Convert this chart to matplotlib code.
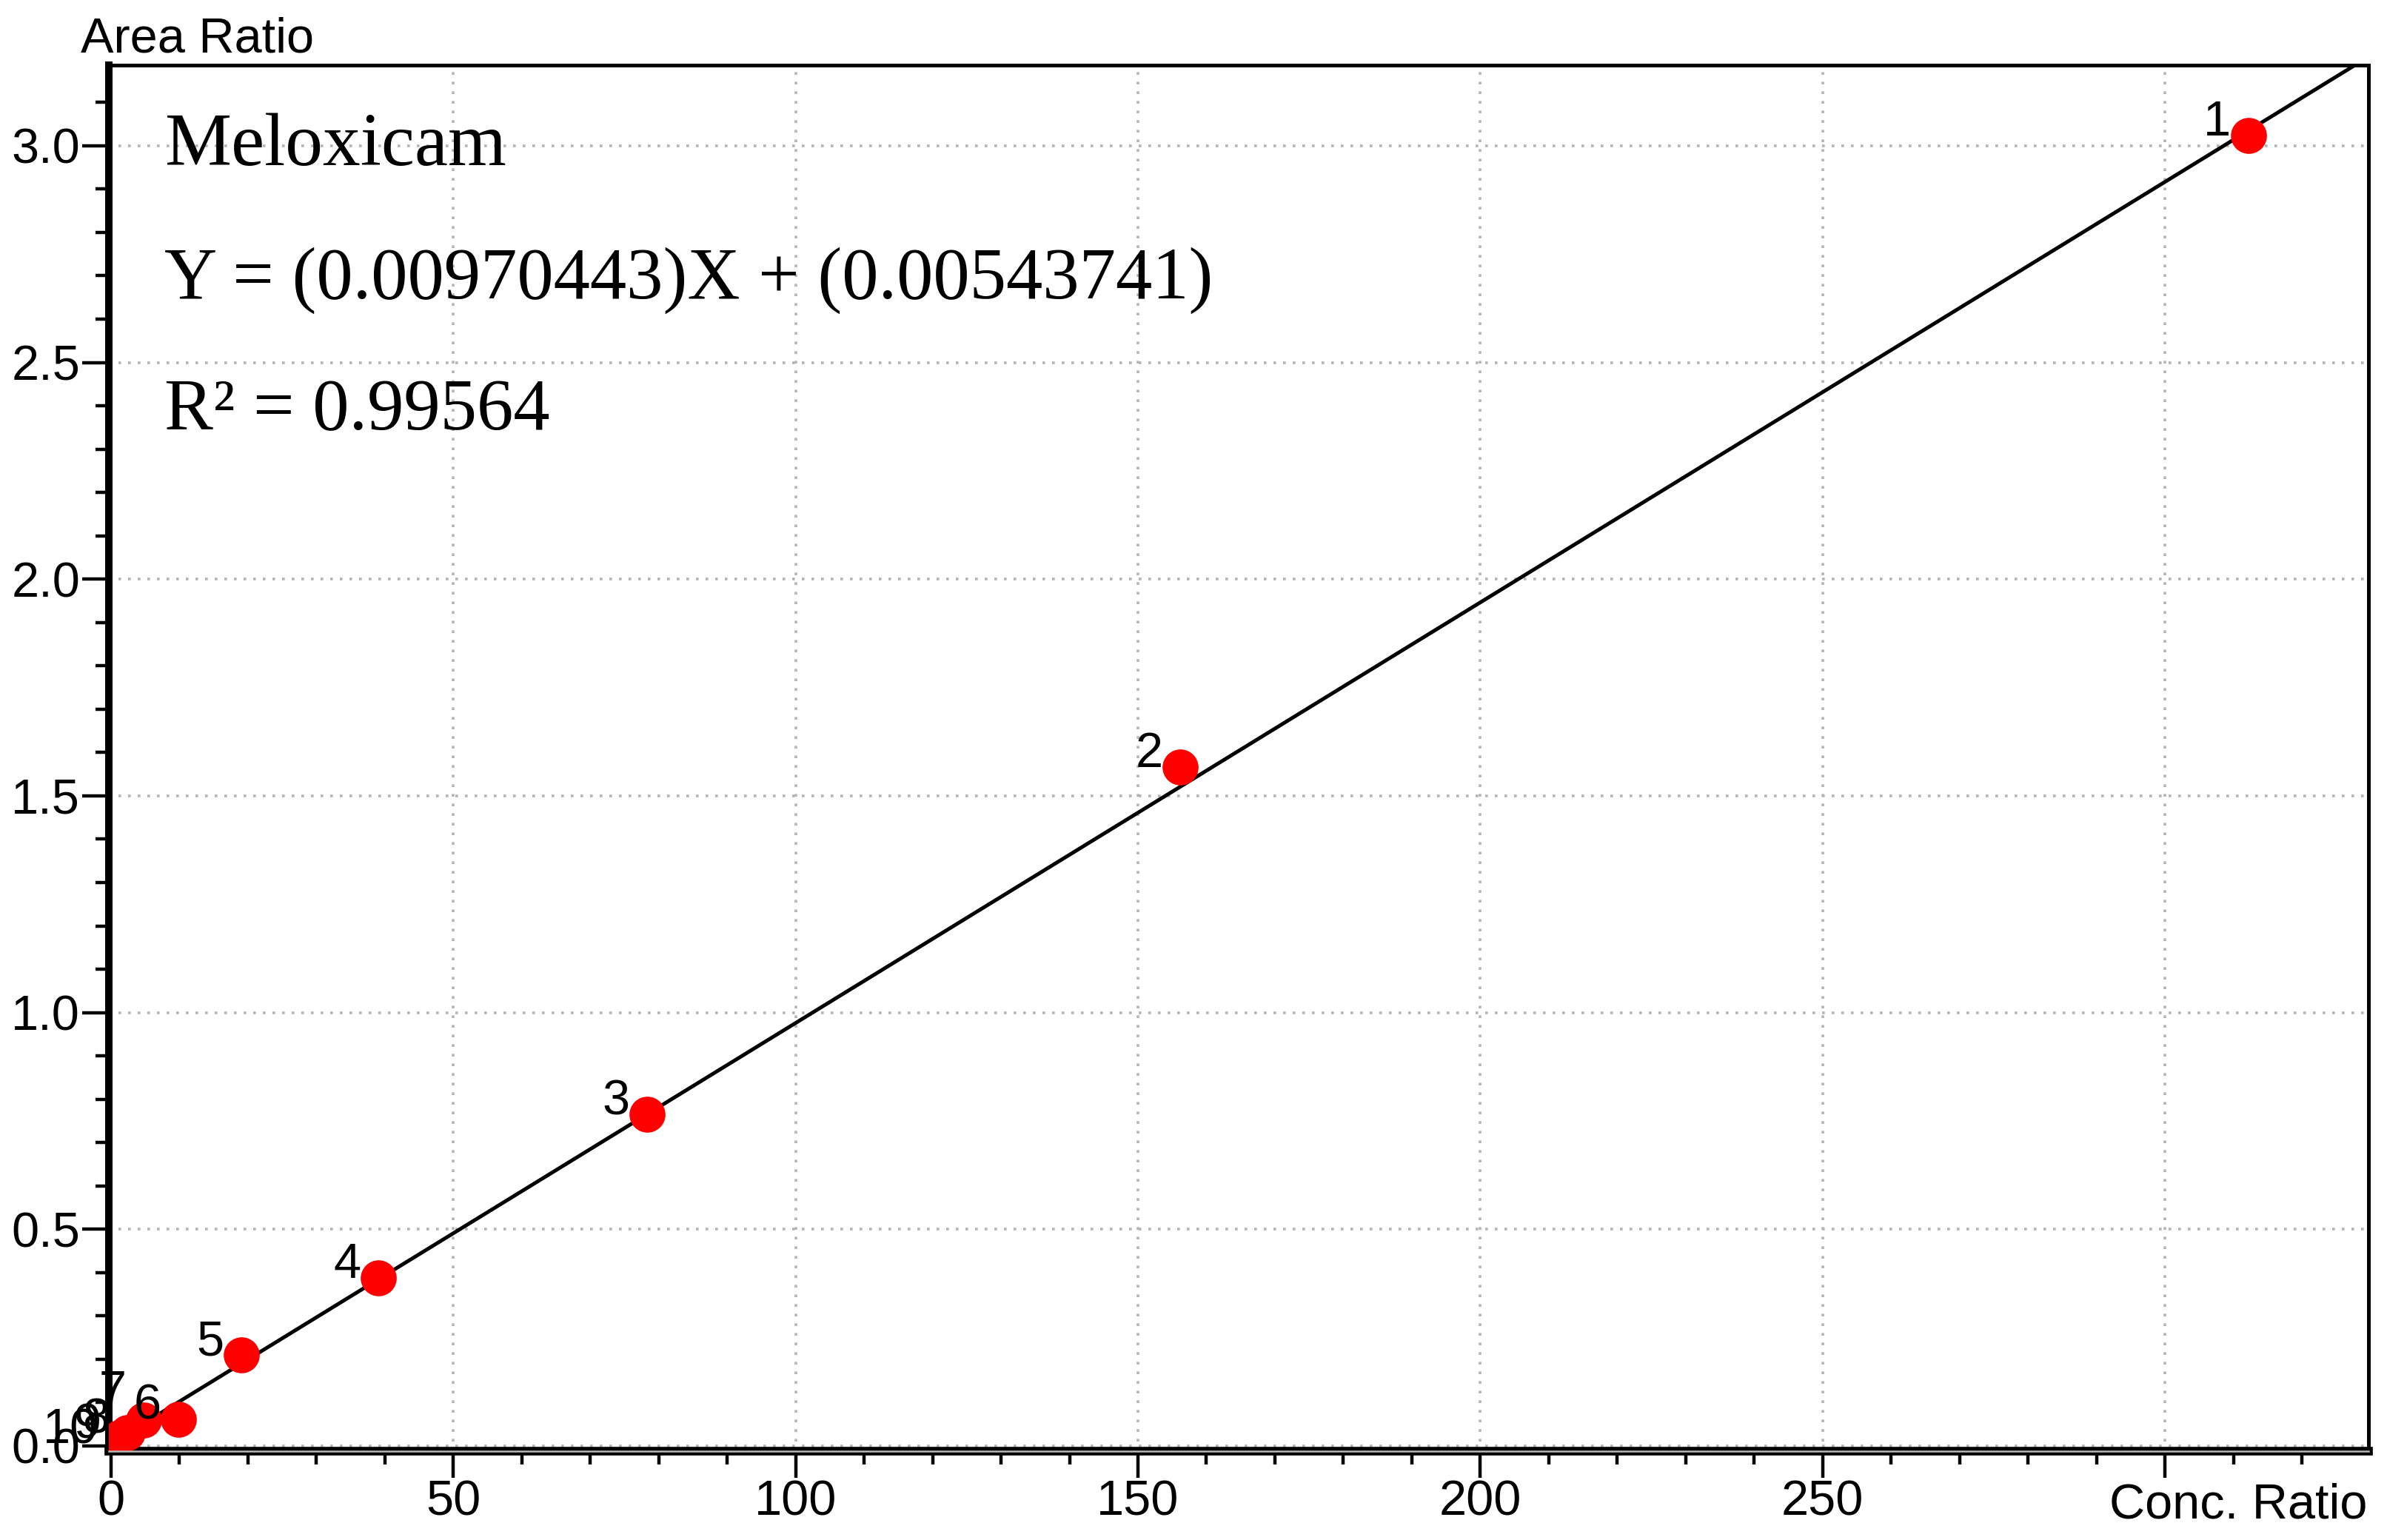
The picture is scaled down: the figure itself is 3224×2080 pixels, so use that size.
# -*- coding: utf-8 -*-
import numpy as np
import matplotlib
matplotlib.use('Agg')
import matplotlib.pyplot as plt
from matplotlib import font_manager
from matplotlib.ticker import MultipleLocator, FormatStrFormatter, FuncFormatter

# --- data ---
conc_ratio = [312.2, 156.2, 78.3, 39.1, 19.1, 9.9, 4.8, 2.4, 1.2, 0.6]
area_ratio = [3.024, 1.566, 0.765, 0.387, 0.210, 0.062, 0.060, 0.030, 0.018, 0.006]
point_labels = ['1', '2', '3', '4', '5', '6', '7', '8', '9', '10']

compound = 'Meloxicam'
slope = 0.00970443
intercept = 0.00543741
r_squared = 0.99564

# pick a narrow sans if there is one
names = {f.name for f in font_manager.fontManager.ttflist}
sans = 'Liberation Sans Narrow' if 'Liberation Sans Narrow' in names else 'Liberation Sans'
plt.rcParams['font.family'] = [sans, 'DejaVu Sans']

fig = plt.figure(figsize=(16.12, 10.4), dpi=200)
ax = fig.add_axes([0.0456, 0.0577, 0.9466, 0.9000])

xmin, xmax = -0.3, 329.7
ax.set_xlim(xmin, xmax)
ax.set_ylim(-0.012, 3.186)

# grid
ax.grid(True, which='major', color='#b4b4b4', linestyle=(0, (1, 2.6)), linewidth=1.3)
ax.set_axisbelow(True)

# regression line
xl = np.linspace(0, xmax, 200)
ax.plot(xl, slope * xl + intercept, color='black', linewidth=1.8, zorder=2)

# points
ax.plot(conc_ratio, area_ratio, 'o', color='#ff0000', markersize=17.5,
        markeredgewidth=0, zorder=3)

# point labels: upper-left of each dot
extra_up = {'7': 7}
for x, y, lab in zip(conc_ratio, area_ratio, point_labels):
    ax.annotate(lab, (x, y), xytext=(-8.5, extra_up.get(lab, 0)),
                textcoords='offset points', ha='right', va='baseline',
                fontsize=24, zorder=4)

# text block
serif = ['Liberation Serif', 'DejaVu Serif']
ax.text(0.0246, 0.928, compound, transform=ax.transAxes, fontsize=36.5,
        family=serif, va='baseline')
ax.text(0.0246, 0.832, 'Y = (%.8f)X + (%.8f)' % (slope, intercept),
        transform=ax.transAxes, fontsize=35.5, family=serif, va='baseline')
ax.text(0.0246, 0.737, 'R\u00b2 = %.5f' % r_squared, transform=ax.transAxes,
        fontsize=35.5, family=serif, va='baseline')

# ticks (the 300 label is replaced by the axis title in the original)
ax.xaxis.set_major_locator(MultipleLocator(50))
ax.xaxis.set_minor_locator(MultipleLocator(10))
ax.xaxis.set_major_formatter(FuncFormatter(lambda v, p: '' if v > 275 else '%d' % v))
ax.yaxis.set_major_locator(MultipleLocator(0.5))
ax.yaxis.set_minor_locator(MultipleLocator(0.1))
ax.yaxis.set_major_formatter(FormatStrFormatter('%.1f'))
ax.tick_params(which='major', direction='out', length=13, width=1.6,
               labelsize=24, pad=1)
ax.tick_params(which='minor', direction='out', length=6.5, width=1.6)

# spines
ax.spines['left'].set_linewidth(3.6)
ax.spines['bottom'].set_linewidth(4.2)
ax.spines['top'].set_linewidth(1.8)
ax.spines['right'].set_linewidth(1.8)
ax.plot([0, 1], [0, 0], transform=ax.transAxes, color='#b8b8b8',
        linewidth=0.9, clip_on=False, zorder=5)

# axis titles
fig.text(0.0338, 0.9663, 'Area Ratio', fontsize=24, ha='left', va='baseline')
fig.text(0.9916, 0.0144, 'Conc. Ratio', fontsize=24, ha='right', va='baseline')

fig.savefig('out.png', dpi=200)
